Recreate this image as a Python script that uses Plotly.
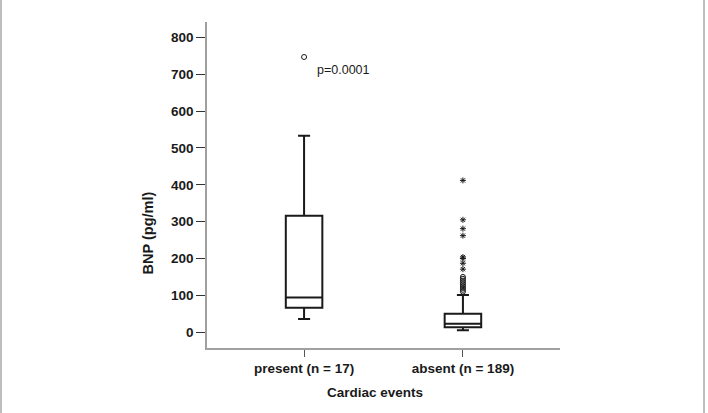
import plotly.graph_objects as go

categories = ["present (n = 17)", "absent (n = 189)"]
q1 = [66, 13]
median = [94, 23]
q3 = [316, 50]
lowerfence = [36, 5]
upperfence = [533, 101]

outlier_cat = ["present (n = 17)"] + ["absent (n = 189)"] * 9
outlier_val = [747, 110, 115, 120, 125, 130, 135, 140, 145, 150]

extreme_cat = ["absent (n = 189)"] * 8
extreme_val = [171, 187, 200, 204, 262, 281, 305, 412]

FONT = "Liberation Sans, Arial, sans-serif"
INK = "#1a1a1a"

fig = go.Figure()
fig.add_trace(go.Box(
    x=categories, q1=q1, median=median, q3=q3,
    lowerfence=lowerfence, upperfence=upperfence,
    boxpoints=False, width=0.23, whiskerwidth=0.33,
    line=dict(color=INK, width=2), fillcolor="rgba(255,255,255,0)",
    showlegend=False, hoverinfo="skip"))
fig.add_trace(go.Scatter(
    x=outlier_cat, y=outlier_val, mode="markers",
    marker=dict(symbol="circle-open", size=5, color=INK, line=dict(width=1)),
    showlegend=False))
fig.add_trace(go.Scatter(
    x=extreme_cat, y=extreme_val, mode="markers",
    marker=dict(symbol="asterisk-open", size=5, color=INK, line=dict(width=1, color=INK)),
    showlegend=False))

fig.add_annotation(x="present (n = 17)", y=713, xref="x", yref="y",
                   text="p=0.0001", showarrow=False, xanchor="left", xshift=11,
                   font=dict(family=FONT, size=12.5, color=INK))
fig.add_annotation(x=-0.167, y=233, xref="paper", yref="y",
                   xanchor="center", yanchor="middle", yshift=13,
                   text="BNP (pg/ml)", showarrow=False, textangle=-90,
                   font=dict(family=FONT, size=14.5, color=INK, weight="bold"))
fig.add_annotation(x=0.476, y=-0.108, xref="paper", yref="paper", yanchor="top",
                   text="Cardiac events", showarrow=False,
                   font=dict(family=FONT, size=13.5, color=INK, weight="bold"))

# page border lines
for xp in (-0.5836, 1.408):
    fig.add_shape(type="line", xref="paper", yref="paper", x0=xp, x1=xp,
                  y0=-0.2, y1=1.07, line=dict(color="#bdbdbd", width=2))

fig.update_layout(
    width=708, height=413,
    margin=dict(l=207, r=148, t=22, b=65),
    paper_bgcolor="white", plot_bgcolor="white",
    font=dict(family=FONT, color=INK),
    xaxis=dict(type="category", range=[-0.611, 1.611], showgrid=False, zeroline=False,
               showline=True, linecolor="#a0a0a0", linewidth=1.5,
               ticks="outside", ticklen=7, tickcolor="#555", tickwidth=1,
               tickfont=dict(family=FONT, size=13.5, color=INK, weight="bold")),
    yaxis=dict(range=[-43, 842], tickvals=[0, 100, 200, 300, 400, 500, 600, 700, 800],
               showgrid=False, zeroline=False,
               showline=True, linecolor="#a0a0a0", linewidth=1.5,
               ticks="outside", ticklen=9, tickcolor="#333", tickwidth=1,
               tickfont=dict(family=FONT, size=13.5, color=INK, weight="bold")),
)

fig.write_html("out.html")
